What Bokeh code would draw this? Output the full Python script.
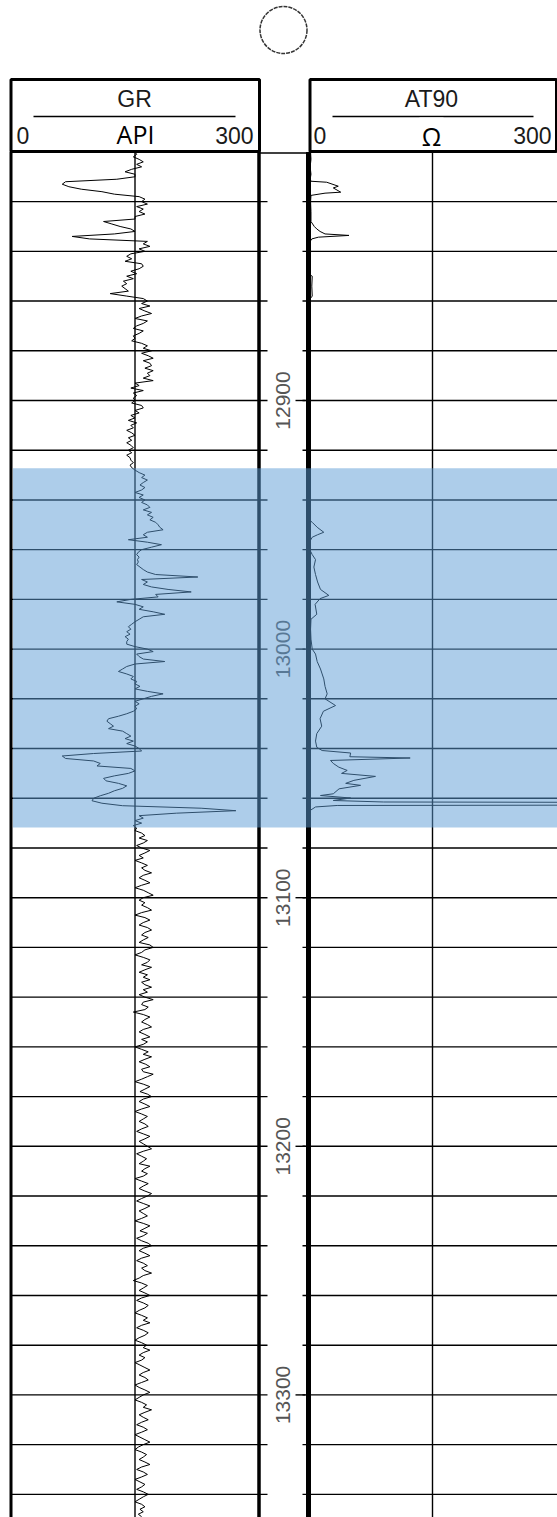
import numpy as np
from bokeh.plotting import figure
from bokeh.models import Range1d
from bokeh.embed import file_html
from bokeh.resources import INLINE
from bokeh.core.properties import value

# ---------------- data ----------------
GR_TOP_DEPTH = 12800          # ft, GR sampled every 1 ft from here
GR = [
    150, 152, 148, 155, 160, 152, 158, 146, 138, 150,   # 12800
    150, 128, 66, 62, 70, 85, 110, 125, 155, 162,       # 12810
    158, 165, 152, 160, 155, 162, 150, 150, 112, 122,   # 12820
    132, 145, 150, 125, 74, 95, 165, 160, 168, 155,     # 12830
    162, 145, 140, 146, 138, 158, 160, 155, 145, 152,   # 12840
    140, 148, 136, 140, 134, 138, 142, 120, 140, 160,   # 12850
    165, 158, 168, 155, 162, 170, 158, 150, 165, 160,   # 12860
    152, 148, 160, 155, 148, 150, 146, 158, 165, 160,   # 12870
    170, 158, 166, 172, 160, 168, 170, 162, 172, 165,   # 12880
    168, 160, 172, 150, 155, 145, 160, 148, 152, 148,   # 12890
    150, 146, 158, 160, 150, 155, 145, 150, 142, 152,   # 12900
    145, 148, 140, 146, 150, 142, 146, 140, 145, 148,   # 12910
    142, 146, 140, 144, 145, 148, 144, 146, 150, 155,   # 12920
    162, 158, 165, 160, 156, 162, 158, 150, 160, 155,   # 12930
    162, 158, 165, 168, 160, 170, 165, 172, 168, 175,   # 12940
    178, 180, 184, 165, 160, 165, 142, 165, 182, 170,   # 12950
    158, 154, 152, 155, 153, 154, 152, 156, 160, 165,   # 12960
    175, 226, 158, 165, 160, 170, 190, 218, 175, 178,   # 12970
    145, 128, 150, 160, 155, 172, 186, 160, 155, 150,   # 12980
    146, 142, 145, 140, 144, 138, 142, 140, 140, 150,   # 12990
    165, 172, 152, 155, 160, 186, 150, 140, 135, 130,   # 13000
    140, 148, 145, 152, 150, 156, 150, 165, 184, 170,   # 13010
    160, 150, 155, 150, 152, 148, 140, 130, 118, 116,   # 13020
    120, 124, 118, 135, 140, 145, 138, 148, 140, 150,   # 13030
    155, 158, 100, 62, 66, 100, 108, 104, 145, 150,     # 13040
    142, 125, 112, 115, 130, 140, 135, 125, 118, 108,   # 13050
    100, 98, 110, 135, 230, 272, 200, 155, 160, 150,    # 13060
    158, 148, 152, 150, 158, 162, 155, 165, 160, 152,   # 13070
    158, 168, 162, 155, 160, 150, 158, 165, 158, 162,   # 13080
    170, 160, 155, 162, 168, 158, 150, 160, 166, 172,   # 13090
    160, 155, 162, 158, 165, 170, 158, 150, 162, 168,   # 13100
    160, 155, 165, 170, 162, 158, 166, 160, 155, 168,   # 13110
    172, 162, 158, 150, 160, 168, 165, 158, 170, 162,   # 13120
    155, 165, 160, 168, 158, 162, 170, 160, 165, 155,   # 13130
    162, 172, 160, 158, 166, 162, 148, 160, 168, 162,   # 13140
    158, 165, 170, 160, 155, 162, 168, 158, 165, 160,   # 13150
    150, 158, 166, 160, 170, 162, 155, 163, 168, 158,   # 13160
    160, 172, 165, 158, 150, 160, 168, 162, 156, 165,   # 13170
    170, 160, 155, 162, 168, 158, 150, 158, 165, 160,   # 13180
    155, 162, 166, 158, 152, 160, 168, 162, 155, 160,   # 13190
    165, 170, 160, 152, 158, 164, 160, 155, 168, 162,   # 13200
    158, 165, 160, 150, 158, 166, 160, 155, 162, 170,   # 13210
    165, 158, 152, 160, 168, 162, 155, 160, 165, 158,   # 13220
    150, 160, 168, 162, 156, 165, 160, 152, 158, 166,   # 13230
    170, 160, 155, 162, 168, 158, 152, 160, 165, 158,   # 13240
    162, 170, 160, 155, 148, 158, 165, 160, 155, 162,   # 13250
    168, 158, 152, 160, 166, 162, 155, 150, 158, 165,   # 13260
    160, 168, 158, 152, 160, 166, 162, 155, 150, 158,   # 13270
    164, 160, 168, 160, 155, 162, 158, 150, 156, 162,   # 13280
    168, 160, 155, 162, 166, 158, 150, 155, 162, 168,   # 13290
    160, 155, 150, 158, 164, 160, 170, 162, 155, 160,   # 13300
    166, 158, 152, 160, 165, 158, 150, 156, 162, 168,   # 13310
    160, 154, 150, 158, 164, 160, 155, 162, 168, 158,   # 13320
    152, 160, 165, 158, 150, 156, 162, 158, 152, 160,   # 13330
    166, 160, 155, 150, 158, 162, 156, 160, 154, 158,   # 13340
]

# AT90 read as (depth ft, ohm) break points
AT90 = [
    (12800, 2.5), (12803, 3), (12806, 2), (12809, 3), (12811, 2), (12811.8, 3),
    (12812.2, 22), (12813.8, 36), (12814.5, 30), (12816.2, 39), (12816.6, 20),
    (12817.5, 3), (12820, 2.5), (12824, 3), (12828, 3), (12829, 5), (12830, 7),
    (12831, 10), (12832, 14), (12833, 20), (12833.6, 49), (12834.3, 12),
    (12835, 4), (12836, 2), (12840, 2.5), (12845, 2), (12849.5, 2), (12850, 4.5),
    (12854, 4), (12858, 4.5), (12859.5, 1), (12870, 1.5), (12900, 1),
    (12930, 1.5), (12948, 1), (12949, 4.5), (12951, 10.5), (12953, 18.5),
    (12954, 11), (12955, 4.5), (12957, 1), (12960, 1.5), (12962, 4.5),
    (12964, 8.5), (12967, 6.5), (12970, 8.5), (12973, 11), (12976, 14.5),
    (12978.4, 24.6), (12979.7, 14), (12982, 8), (12986, 10), (12988, 3),
    (12992, 2.5), (12996, 3), (13000, 4.5), (13002, 8.5), (13005, 10.5),
    (13008, 14.5), (13010, 16.5), (13012, 18.5), (13015, 20), (13018, 22.6),
    (13020, 20), (13022.7, 32.7), (13025, 18), (13028, 14), (13031, 16),
    (13034, 10), (13037, 8.5), (13039.5, 10), (13040.8, 16.5), (13041.8, 51),
    (13043.3, 50), (13043.8, 123), (13044.8, 26.6), (13046, 30), (13047.5, 36.7),
    (13048.8, 46.8), (13050, 40), (13051.2, 81), (13052.8, 54.9), (13054, 45),
    (13054.8, 63), (13056.2, 37), (13058.2, 30), (13058.9, 14.5), (13059.9, 51),
    (13060.9, 30), (13061.5, 91), (13062.1, 1200), (13062.4, 1200),
    (13062.9, 34.7), (13063.5, 8.5), (13064.9, 2), (13066, 1), (13100, 1),
    (13150, 1.5), (13200, 1), (13250, 1.5), (13300, 1), (13350, 1),
]

TRACK_MIN, TRACK_MAX, TRACK_MID = 0, 300, 150
DEPTH_LABELS = [12900, 13000, 13100, 13200, 13300]
GRID_DEPTHS = [12820, 12840, 12860, 12880, 12900, 12920, 12940, 12960, 12980,
               13000, 13020, 13040, 13060, 13080, 13100, 13120, 13140, 13160,
               13180, 13200, 13220, 13240, 13260, 13280, 13300, 13320, 13340]
DATA_TOP = 12800
ZONE_TOP, ZONE_BOTTOM = 12927.3, 13071.8

# ---------------- layout ----------------
W, H = 557, 1517
K = 124 / 150.0                      # px per track unit
PPF = 2.486                          # px per ft
gr_depth = GR_TOP_DEPTH + np.arange(len(GR))
at_depth = [d for d, _ in AT90]
at_val = [v for _, v in AT90]

p = figure(width=W, height=H, output_backend="svg", toolbar_location=None,
           x_range=Range1d((0 - 10.5) / K, (W - 10.5) / K),
           y_range=Range1d(12900 + (H - 400) / PPF, 12900 - 400 / PPF),
           x_axis_type=None, y_axis_type=None, min_border=0,
           outline_line_color=None, background_fill_color="white",
           border_fill_color="white")
p.extra_x_ranges = {"at": Range1d((0 - 308) / K, (W - 308) / K),
                    "px": Range1d(0, W)}
p.extra_y_ranges = {"py": Range1d(H, 0)}
for g in p.grid:
    g.visible = False

BOTTOM = 13400

# header boxes
p.quad(left=10.5, right=259, top=79, bottom=151, x_range_name="px", y_range_name="py",
       fill_color=None, line_color="black", line_width=3)
p.quad(left=309.5, right=556, top=79, bottom=151, x_range_name="px", y_range_name="py",
       fill_color=None, line_color="black", line_width=3)
p.segment(x0=[33, 332], y0=[116, 116], x1=[235, 533], y1=[116, 116],
          x_range_name="px", y_range_name="py", line_color="black", line_width=1.5)
p.quad(left=419, right=443, top=117, bottom=149.5, x_range_name="px", y_range_name="py",
       fill_color="white", line_color=None)
# top line across depth track
p.segment(x0=[259], y0=[152.5], x1=[309], y1=[152.5], x_range_name="px",
          y_range_name="py", line_color="black", line_width=1.5)

# grid lines
p.segment(x0=10.5, x1=267, y0=GRID_DEPTHS, y1=GRID_DEPTHS, x_range_name="px",
          line_color="black", line_width=1.4)
p.segment(x0=302, x1=W + 5, y0=GRID_DEPTHS, y1=GRID_DEPTHS, x_range_name="px",
          line_color="black", line_width=1.4)
p.segment(x0=295, x1=305, y0=DEPTH_LABELS, y1=DEPTH_LABELS, x_range_name="px",
          line_color="black", line_width=1.4)

# mid lines
p.segment(x0=[TRACK_MID], x1=[TRACK_MID], y0=[DATA_TOP], y1=[BOTTOM],
          line_color="black", line_width=1.4)
p.segment(x0=[TRACK_MID], x1=[TRACK_MID], y0=[DATA_TOP], y1=[BOTTOM],
          x_range_name="at", line_color="black", line_width=1.4)

# curves
p.line(x=GR, y=gr_depth, line_color="black", line_width=1)
p.line(x=at_val, y=at_depth, x_range_name="at", line_color="black", line_width=1)

# track borders
p.segment(x0=[TRACK_MIN], x1=[TRACK_MIN], y0=[DATA_TOP], y1=[BOTTOM],
          line_color="black", line_width=3)
p.segment(x0=[TRACK_MAX], x1=[TRACK_MAX], y0=[DATA_TOP], y1=[BOTTOM],
          line_color="black", line_width=3.5)
p.segment(x0=[TRACK_MIN], x1=[TRACK_MIN], y0=[DATA_TOP], y1=[BOTTOM],
          x_range_name="at", line_color="black", line_width=5)

# header texts
hdr_font = value("Liberation Sans")
p.text(x=[134, 431], y=[98, 98], text=["GR", "AT90"], x_range_name="px",
       y_range_name="py", text_font=hdr_font, text_font_size="23px",
       text_color="#1a1a1a", text_align="center", text_baseline="alphabetic")
p.text(x=[16, 313], y=[135, 135], text=["0", "0"], x_range_name="px",
       y_range_name="py", text_font=hdr_font, text_font_size="23px",
       text_color="#1a1a1a", text_align="left", text_baseline="alphabetic")
p.text(x=[253, 551], y=[135, 135], text=["300", "300"], x_range_name="px",
       y_range_name="py", text_font=hdr_font, text_font_size="23px",
       text_color="#1a1a1a", text_align="right", text_baseline="alphabetic")
p.text(x=[135, 431], y=[133, 135], text=["API", "Ω"], x_range_name="px",
       y_range_name="py", text_font=value("Open Sans"), text_font_size="25px",
       text_color="black", text_align="center", text_baseline="alphabetic")

# depth labels
p.text(x=282, y=DEPTH_LABELS, text=[str(d) for d in DEPTH_LABELS], angle=np.pi / 2,
       x_range_name="px", text_font=value("Liberation Sans"), text_font_size="21px",
       text_color="#555", text_align="center", text_baseline="middle")

# circle marker at top
p.scatter(x=[283], y=[29.5], size=47, marker="circle", fill_color=None,
          line_color="#333", line_width=1.5, line_dash="4 1",
          x_range_name="px", y_range_name="py")

# highlighted zone
p.quad(left=12.5, right=W + 5, top=ZONE_TOP, bottom=ZONE_BOTTOM, x_range_name="px",
       fill_color="#5B9BD5", fill_alpha=0.5, line_color=None)

open("out.html", "w").write(file_html(p, INLINE))
